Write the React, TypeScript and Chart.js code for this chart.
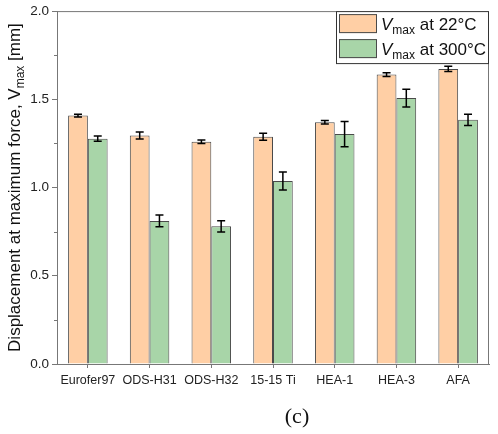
import { useEffect, useRef } from 'react';
import { Chart, registerables } from 'chart.js';

Chart.register(...registerables);

const categories = ['Eurofer97', 'ODS-H31', 'ODS-H32', '15-15 Ti', 'HEA-1', 'HEA-3', 'AFA'];
const vmax22 = [1.408, 1.295, 1.26, 1.288, 1.37, 1.64, 1.672];
const vmax22Err = [0.008, 0.02, 0.01, 0.02, 0.01, 0.01, 0.015];
const vmax300 = [1.277, 0.811, 0.78, 1.037, 1.303, 1.507, 1.384];
const vmax300Err = [0.015, 0.033, 0.032, 0.051, 0.072, 0.05, 0.032];
const legendLabels = [' at 22°C', ' at 300°C'];

const FONT = '"Liberation Sans", Arial, sans-serif';
const AXIS_COLOR = '#777';

// error bars, frame, minor ticks, y title, legend and "(c)"
const decorations = {
  id: 'decorations',
  afterDatasetsDraw(chart: any) {
    const ctx = chart.ctx;
    const y = chart.scales.y;
    const errs = [vmax22Err, vmax300Err];
    ctx.save();
    ctx.strokeStyle = '#000';
    ctx.lineWidth = 1.5;
    chart.data.datasets.forEach((ds: any, di: number) => {
      const meta = chart.getDatasetMeta(di);
      meta.data.forEach((bar: any, i: number) => {
        const v = ds.data[i];
        const top = y.getPixelForValue(v + errs[di][i]);
        const bot = y.getPixelForValue(v - errs[di][i]);
        ctx.beginPath();
        ctx.moveTo(bar.x, top);
        ctx.lineTo(bar.x, bot);
        ctx.moveTo(bar.x - 4, top);
        ctx.lineTo(bar.x + 4, top);
        ctx.moveTo(bar.x - 4, bot);
        ctx.lineTo(bar.x + 4, bot);
        ctx.stroke();
      });
    });
    ctx.restore();
  },
  afterDraw(chart: any) {
    const ctx = chart.ctx;
    const { left, right, top, bottom } = chart.chartArea;
    const y = chart.scales.y;
    ctx.save();

    // frame
    ctx.strokeStyle = AXIS_COLOR;
    ctx.lineWidth = 1;
    ctx.strokeRect(left + 0.5, top + 0.5, right - left - 1, bottom - top);

    // minor ticks halfway between majors
    const ticks = y.ticks;
    ctx.beginPath();
    for (let i = 0; i < ticks.length - 1; i++) {
      const py = Math.round(y.getPixelForValue((ticks[i].value + ticks[i + 1].value) / 2)) + 0.5;
      ctx.moveTo(left, py);
      ctx.lineTo(left - 3, py);
    }
    ctx.stroke();

    // y axis title with subscript
    ctx.fillStyle = '#111';
    ctx.translate(20, (top + bottom) / 2);
    ctx.rotate(-Math.PI / 2);
    ctx.textBaseline = 'alphabetic';
    const big = `17px ${FONT}`;
    const small = `12px ${FONT}`;
    const parts: [string, string, number][] = [
      ['Displacement at maximum force, V', big, 0],
      ['max', small, 4],
      [' [mm]', big, 0],
    ];
    let total = 0;
    parts.forEach(([t, f]) => {
      ctx.font = f;
      total += ctx.measureText(t).width;
    });
    let x = -total / 2;
    parts.forEach(([t, f, dy]) => {
      ctx.font = f;
      ctx.fillText(t, x, dy);
      x += ctx.measureText(t).width;
    });
    ctx.setTransform(1, 0, 0, 1, 0, 0);
    ctx.scale(chart.currentDevicePixelRatio, chart.currentDevicePixelRatio);

    // legend
    const boxL = right - 153;
    const boxT = top;
    ctx.fillStyle = '#fff';
    ctx.fillRect(boxL, boxT, right - boxL, 52);
    ctx.strokeStyle = '#333';
    ctx.strokeRect(boxL + 0.5, boxT + 0.5, right - boxL - 1, 52);
    chart.data.datasets.forEach((ds: any, i: number) => {
      const sy = boxT + 3 + i * 25;
      ctx.fillStyle = ds.backgroundColor;
      ctx.fillRect(boxL + 3, sy, 38, 19);
      ctx.strokeStyle = ds.borderColor;
      ctx.strokeRect(boxL + 3.5, sy + 0.5, 37, 18);
      const baseY = sy + 16;
      let tx = boxL + 45;
      ctx.fillStyle = '#111';
      ctx.font = `italic 17px ${FONT}`;
      ctx.fillText('V', tx, baseY);
      tx += ctx.measureText('V').width;
      ctx.font = `12px ${FONT}`;
      ctx.fillText('max', tx, baseY + 4);
      tx += ctx.measureText('max').width;
      ctx.font = `17px ${FONT}`;
      ctx.fillText(legendLabels[i], tx, baseY);
    });

    // panel label
    ctx.fillStyle = '#111';
    ctx.font = '22px "Liberation Serif", "Times New Roman", serif';
    ctx.textAlign = 'center';
    ctx.fillText('(c)', 297, 423);
    ctx.restore();
  },
};

export default function App() {
  const chartRef = useRef<HTMLCanvasElement>(null);
  const chartInstance = useRef<Chart | null>(null);

  useEffect(() => {
    if (!chartRef.current) return;
    const ctx = chartRef.current.getContext('2d');
    if (!ctx) return;

    if (chartInstance.current) {
      chartInstance.current.destroy();
      chartInstance.current = null;
    }

    chartInstance.current = new Chart(ctx, {
      type: 'bar',
      data: {
        labels: categories,
        datasets: [
          {
            label: 'Vmax at 22°C',
            data: vmax22,
            backgroundColor: '#FFCFA5',
            borderColor: '#4a4a4a',
            borderWidth: 1,
          },
          {
            label: 'Vmax at 300°C',
            data: vmax300,
            backgroundColor: '#A8D5A8',
            borderColor: '#4a4a4a',
            borderWidth: 1,
          },
        ],
      },
      options: {
        responsive: true,
        maintainAspectRatio: false,
        animation: false,
        layout: { padding: { top: 10, right: 9, left: 0, bottom: 0 } },
        datasets: {
          bar: { barPercentage: 1, categoryPercentage: 0.64 },
        },
        plugins: {
          legend: { display: false },
          tooltip: { enabled: false },
        },
        scales: {
          y: {
            min: 0,
            max: 2,
            afterFit: (scale: any) => {
              scale.width = 57;
            },
            ticks: {
              stepSize: 0.5,
              padding: 3,
              color: '#222',
              font: { family: FONT, size: 13.5 },
              callback: (value: any) => Number(value).toFixed(1),
            },
            grid: {
              drawOnChartArea: false,
              drawTicks: true,
              tickLength: 5,
              tickColor: AXIS_COLOR,
            },
            border: { color: AXIS_COLOR },
          },
          x: {
            offset: true,
            afterFit: (scale: any) => {
              scale.height = 70;
            },
            ticks: {
              padding: 5,
              color: '#222',
              font: { family: FONT, size: 12.5 },
              maxRotation: 0,
              autoSkip: false,
            },
            grid: {
              drawOnChartArea: false,
              drawTicks: true,
              tickLength: 4,
              tickColor: AXIS_COLOR,
              offset: false,
            },
            border: { color: AXIS_COLOR },
          },
        },
      },
      plugins: [decorations],
    });

    return () => {
      if (chartInstance.current) {
        chartInstance.current.destroy();
        chartInstance.current = null;
      }
    };
  }, []);

  return (
    <div style={{ position: 'fixed', left: 0, top: 0, width: 498, height: 434, background: '#fff' }}>
      <canvas ref={chartRef}></canvas>
    </div>
  );
}
